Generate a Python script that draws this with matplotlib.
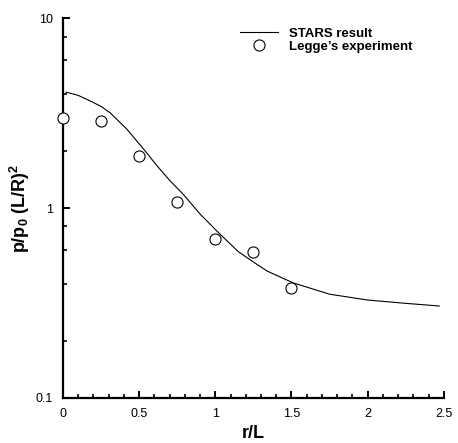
import matplotlib
matplotlib.use("Agg")
import matplotlib.pyplot as plt
from matplotlib.ticker import FixedLocator, FuncFormatter, MultipleLocator

plt.rcParams['font.family'] = ['Liberation Sans', 'DejaVu Sans']
plt.rcParams['mathtext.default'] = 'regular'

# STARS result (curve)
stars_x = [0.02, 0.10, 0.18, 0.25, 0.31, 0.42, 0.53, 0.62, 0.70, 0.79, 0.90, 1.01, 1.15, 1.25, 1.34, 1.51, 1.75, 2.00, 2.25, 2.47]
stars_y = [4.08, 3.92, 3.66, 3.43, 3.17, 2.60, 2.04, 1.66, 1.40, 1.18, 0.93, 0.757, 0.59, 0.52, 0.466, 0.404, 0.352, 0.328, 0.315, 0.305]

# Legge's experiment (markers)
exp_x = [0.0, 0.25, 0.5, 0.75, 1.0, 1.25, 1.5]
exp_y = [2.97, 2.87, 1.88, 1.08, 0.69, 0.59, 0.38]

xticks = [0, 0.5, 1, 1.5, 2, 2.5]
xticklabels = ['0', '0.5', '1', '1.5', '2', '2.5']
yticks = [0.1, 1, 10]
yticklabels = ['0.1', '1', '10']
yminor = [0.2, 0.4, 0.6, 0.8, 2, 4, 6, 8]

fig = plt.figure(figsize=(4.58, 4.43), dpi=100)
ax = fig.add_axes([0.1376, 0.1016, 0.8314, 0.8574])

ax.plot(stars_x, stars_y, color='black', lw=0.8, label='STARS result', zorder=2)
ax.plot(exp_x, exp_y, linestyle='none', marker='o', ms=8, mfc='white', mec='black', mew=0.8,
        label='Legge\u2019s experiment', clip_on=False, zorder=3)

ax.set_yscale('log')
ax.set_xlim(0, 2.5)
ax.set_ylim(0.1, 10)

ax.xaxis.set_major_locator(FixedLocator(xticks))
ax.set_xticklabels(xticklabels)
ax.xaxis.set_minor_locator(MultipleLocator(0.1))
ax.yaxis.set_major_locator(FixedLocator(yticks))
ax.set_yticklabels(yticklabels)
ax.yaxis.set_minor_locator(FixedLocator(yminor))
ax.yaxis.set_minor_formatter(FuncFormatter(lambda v, p: ''))

for s in ['top', 'right']:
    ax.spines[s].set_visible(False)
for s in ['left', 'bottom']:
    ax.spines[s].set_linewidth(1.6)

ax.tick_params(which='major', direction='in', length=5, width=1.4, labelsize=9, pad=7)
ax.tick_params(which='minor', direction='in', length=3, width=1.2)

ax.set_xlabel('r/L', fontsize=13, fontweight='bold', labelpad=4)
ax.set_ylabel('p/p$_0$ (L/R)$^2$', fontsize=13, fontweight='bold', labelpad=3)

leg = ax.legend(loc='upper left', bbox_to_anchor=(0.44, 1.0), frameon=False,
                prop={'weight': 'bold', 'size': 9.5}, handlelength=2.9, handletextpad=0.8,
                labelspacing=0.05, borderaxespad=0.3)

fig.savefig('out.png', dpi=100)
